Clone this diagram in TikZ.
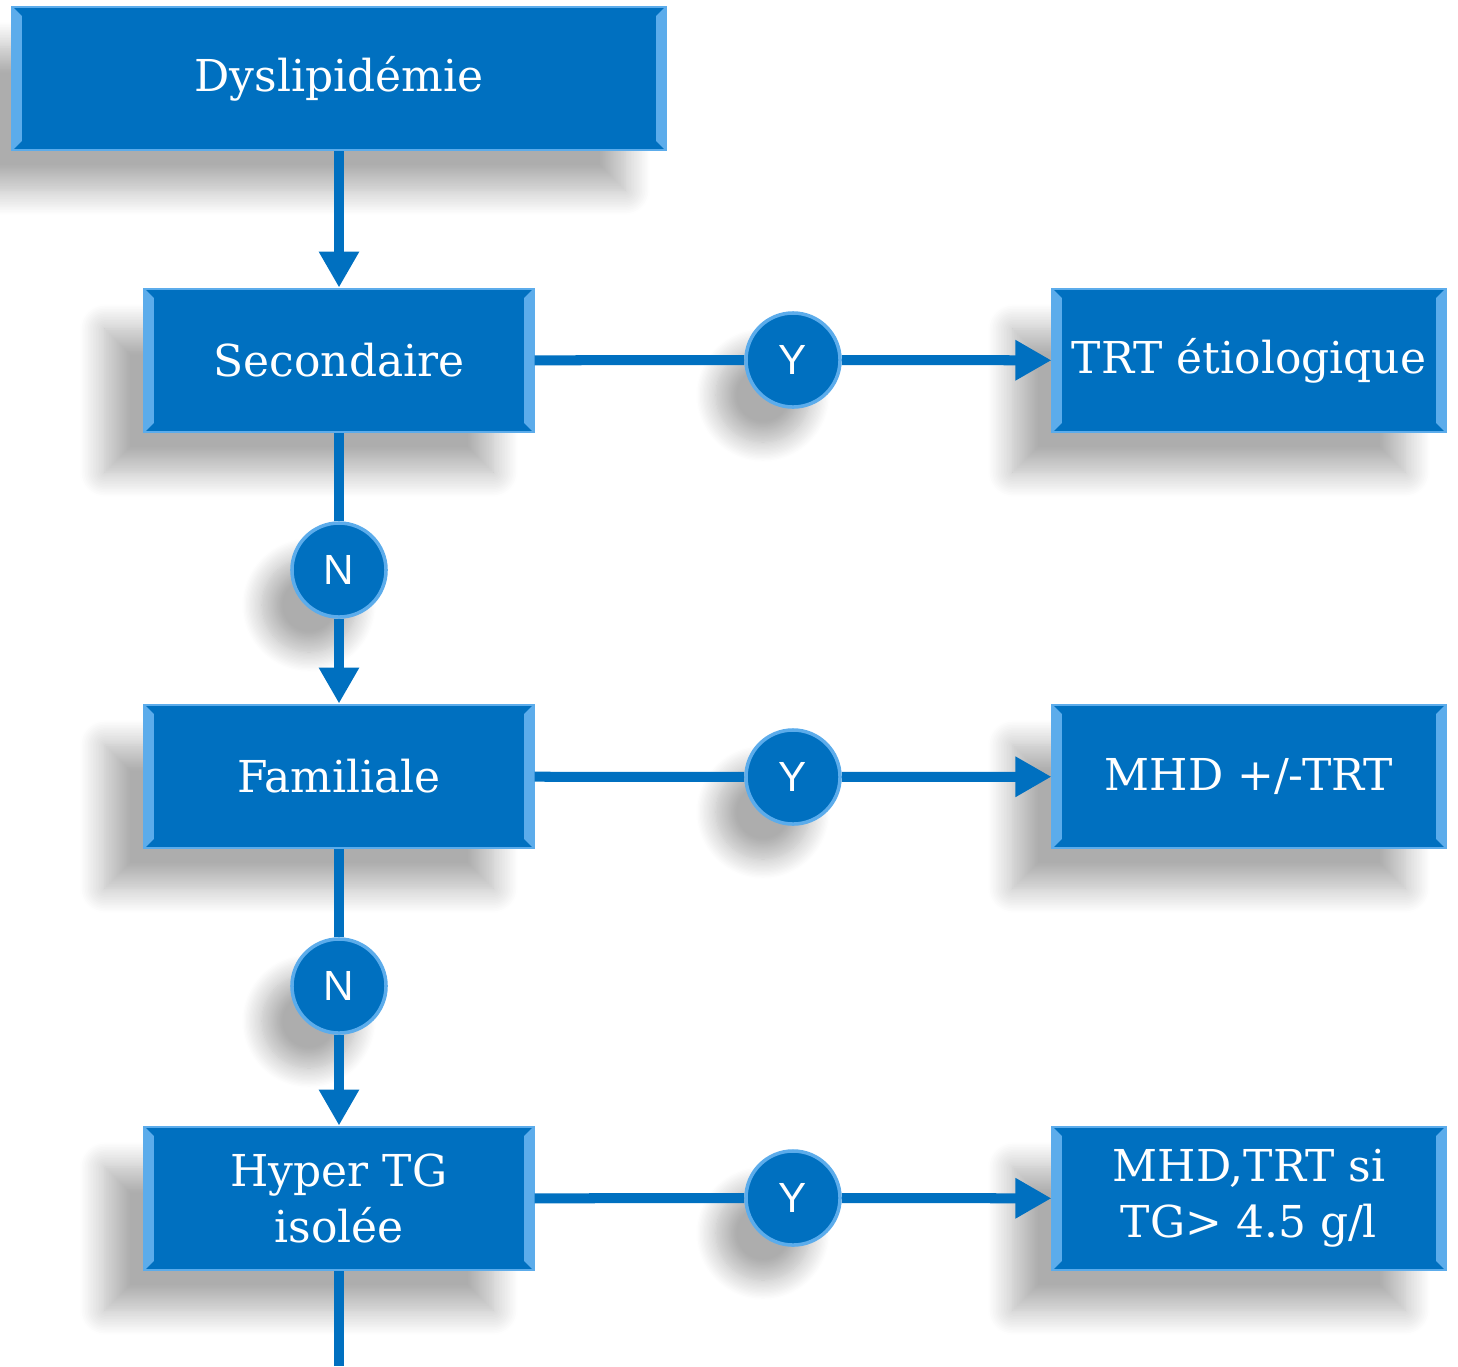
\documentclass[tikz,border=0pt]{standalone}
\usepackage{fontspec}
\setmainfont{DejaVu Serif}
\newfontfamily\ynfont{Liberation Sans}
\usetikzlibrary{arrows.meta,shadows.blur}
\definecolor{flowblue}{RGB}{0,112,192}
\definecolor{edgeblue}{RGB}{92,172,235}
\tikzset{
  flowbox/.style={rectangle, fill=flowblue, draw=edgeblue, line width=0.8pt,
    text=white, align=center, minimum height=1.43cm, inner sep=0pt,
    font=\fontsize{12.5}{16}\selectfont,
    blur shadow={shadow xshift=-0.4cm, shadow yshift=-0.4cm, shadow blur radius=0.25cm,
      shadow blur steps=16, shadow opacity=32},
    path picture={
      \fill[edgeblue] (path picture bounding box.north west) -- ++(0.09cm,-0.09cm)
        -- ([xshift=0.09cm,yshift=0.09cm]path picture bounding box.south west)
        -- (path picture bounding box.south west) -- cycle;
      \fill[edgeblue] (path picture bounding box.north east) -- ++(-0.09cm,-0.09cm)
        -- ([xshift=-0.09cm,yshift=0.09cm]path picture bounding box.south east)
        -- (path picture bounding box.south east) -- cycle;}},
  answer/.style={circle, fill=flowblue, draw=edgeblue, line width=1pt,
    text=white, minimum size=0.94cm, inner sep=0pt, font=\ynfont\fontsize{12}{14}\selectfont,
    blur shadow={shadow xshift=-0.3cm, shadow yshift=-0.35cm, shadow blur radius=0.2cm,
      shadow blur steps=16, shadow opacity=32}},
  link/.style={draw=flowblue, line width=0.1cm},
  arr/.style={link, -{Triangle[width=0.38cm,length=0.36cm]}}
}
\begin{document}
\begin{tikzpicture}[x=0.01cm,y=-0.01cm]
\useasboundingbox (0,0) rectangle (1458,1366);
% left column
\node[flowbox, minimum width=6.52cm] (dys) at (339,78.5) {Dyslipidémie};
\node[flowbox, minimum width=3.88cm] (sec) at (339,360.5) {Secondaire};
\node[flowbox, minimum width=3.88cm] (fam) at (339,776.5) {Familiale};
\node[flowbox, minimum width=3.88cm] (hyp) at (339,1198.5) {Hyper TG\\isolée};
% right column
\node[flowbox, minimum width=3.92cm] (trt) at (1249,360.5) {TRT étiologique};
\node[flowbox, minimum width=3.92cm] (mhd) at (1249,776.5) {MHD +/-TRT};
\node[flowbox, minimum width=3.92cm] (mhdtrt) at (1249,1198.5) {MHD,TRT si\\TG> 4.5 g/l};
% yes / no
\node[answer] (y1) at (793,360) {Y};
\node[answer] (y2) at (793,777) {Y};
\node[answer] (y3) at (793,1198) {Y};
\node[answer] (n1) at (339,570) {N};
\node[answer] (n2) at (339,986) {N};
\coordinate (out) at (339,1366);

\draw[arr] (dys) -- (sec);
\draw[link] (sec) -- (n1);
\draw[arr] (n1) -- (fam);
\draw[link] (fam) -- (n2);
\draw[arr] (n2) -- (hyp);
\draw[link] (hyp) -- (out);
\draw[link] (sec) -- (y1);
\draw[arr] (y1) -- (trt);
\draw[link] (fam) -- (y2);
\draw[arr] (y2) -- (mhd);
\draw[link] (hyp) -- (y3);
\draw[arr] (y3) -- (mhdtrt);
\end{tikzpicture}
\end{document}
